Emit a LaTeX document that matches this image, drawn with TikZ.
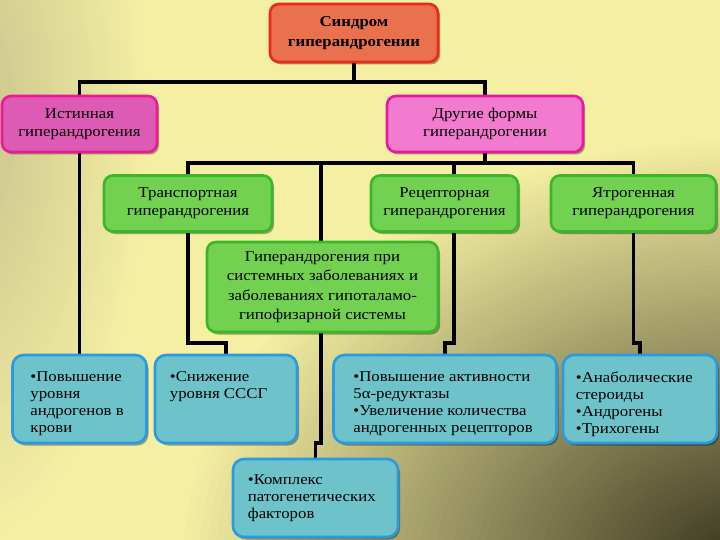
\documentclass[tikz,border=0pt]{standalone}
\usepackage{fontspec}
\setmainfont{Liberation Serif}[FakeStretch=1.12]
\usetikzlibrary{shadows}
\definecolor{bgbase}{HTML}{F4EFA2}
\definecolor{bgtl}{HTML}{C4C08C}
\definecolor{bgdark}{HTML}{36321D}
\definecolor{topfill}{HTML}{E9714E}
\definecolor{topdraw}{HTML}{F02818}
\definecolor{istfill}{HTML}{DD5BB4}
\definecolor{istdraw}{HTML}{EC1A95}
\definecolor{othfill}{HTML}{F27ACF}
\definecolor{othdraw}{HTML}{E8199E}
\definecolor{grnfill}{HTML}{72D150}
\definecolor{grndraw}{HTML}{38B826}
\definecolor{blufill}{HTML}{6DC3C9}
\definecolor{bludraw}{HTML}{2A9BE0}
\pgfdeclarelayer{bglayer}
\pgfdeclarelayer{linelayer}
\pgfsetlayers{bglayer,linelayer,main}
\begin{document}
\begin{tikzpicture}[x=1pt,y=-1pt,
  boxbase/.style={rounded corners=9pt, line width=2.6pt, inner sep=0pt,
    drop shadow={shadow xshift=2pt, shadow yshift=-2.5pt, opacity=.35, fill=black}},
  topbox/.style={boxbase, fill=topfill, draw=topdraw, align=center,
    font=\fontsize{15}{20.5}\selectfont\bfseries},
  istbox/.style={boxbase, fill=istfill, draw=istdraw, align=center,
    font=\fontsize{15}{18}\selectfont},
  othbox/.style={boxbase, fill=othfill, draw=othdraw, align=center,
    font=\fontsize{15}{18}\selectfont},
  grnbox/.style={boxbase, fill=grnfill, draw=grndraw, align=center,
    font=\fontsize{15}{18}\selectfont},
  blubox/.style={boxbase, fill=blufill, draw=bludraw, rounded corners=11pt},
  blutext/.style={anchor=north west, inner sep=0pt, align=left,
    font=\fontsize{15}{17}\selectfont},
  conn/.style={line width=3.6pt, black}]
\useasboundingbox (0,0) rectangle (720,540);
\begin{pgfonlayer}{bglayer}
  \fill[bgbase] (0,0) rectangle (720,540);
  \begin{scope}
    \clip (0,0) rectangle (720,540);
    \foreach \i in {0,...,39}{
      \pgfmathsetmacro\dd{1-\i/40}
      \pgfmathsetmacro\pp{100*\i/40}
      \fill[bgtl!\pp!bgbase] (-40,120) ellipse [x radius=\dd*190pt, y radius=\dd*430pt];
    }
    \foreach \i in {0,...,69}{
      \pgfmathsetmacro\dd{1-\i/70}
      \pgfmathsetmacro\pp{100*\i/70}
      \fill[bgdark!\pp!bgbase] (745,565) ellipse [x radius=\dd*570pt, y radius=\dd*430pt];
    }
  \end{scope}
\end{pgfonlayer}

% top level
\node[topbox, minimum width=168pt, minimum height=58pt] (top) at (354,33) {Синдром\\гиперандрогении};
\node[istbox, minimum width=155pt, minimum height=56pt] (ist) at (79.5,124) {Истинная\\гиперандрогения};
\node[othbox, minimum width=196pt, minimum height=56pt] (oth) at (485,124) {Другие формы\\гиперандрогении};

% green level
\node[grnbox, minimum width=168pt, minimum height=56pt] (tr) at (188,203.5) {Транспортная\\гиперандрогения};
\node[grnbox, minimum width=147pt, minimum height=56pt] (rc) at (444.5,203.5) {Рецепторная\\гиперандрогения};
\node[grnbox, minimum width=165pt, minimum height=56pt] (yt) at (633.5,203.5) {Ятрогенная\\гиперандрогения};
\node[grnbox, minimum width=231pt, minimum height=90pt, font=\fontsize{15}{19.5}\selectfont] (hp) at (322.5,287) {Гиперандрогения при\\системных заболеваниях и\\заболеваниях гипоталамо-\\гипофизарной системы};

% blue level
\node[blubox, minimum width=134pt, minimum height=88pt] (b1) at (79.5,399) {};
\node[blubox, minimum width=142pt, minimum height=88pt] (b2) at (226,399) {};
\node[blubox, minimum width=223pt, minimum height=88pt] (b3) at (445,399) {};
\node[blubox, minimum width=154pt, minimum height=88pt] (b4) at (640,399) {};
\node[blubox, minimum width=165pt, minimum height=78pt] (kp) at (315.5,498) {};

\node[blutext] (b1t) at ([xshift=19pt,yshift=-18pt]b1.north west) {\textbullet Повышение\\уровня\\андрогенов в\\крови};
\node[blutext] (b2t) at ([xshift=16pt,yshift=-18pt]b2.north west) {\textbullet Снижение\\уровня СССГ};
\node[blutext] (b3t) at ([xshift=21pt,yshift=-18pt]b3.north west) {\textbullet Повышение активности\\5α-редуктазы\\\textbullet Увеличение количества\\андрогенных рецепторов};
\node[blutext] (b4t) at ([xshift=14pt,yshift=-18pt]b4.north west) {\textbullet Анаболические\\стероиды\\\textbullet Андрогены\\\textbullet Трихогены};
\node[blutext] (kpt) at ([xshift=16pt,yshift=-17pt]kp.north west) {\textbullet Комплекс\\патогенетических\\факторов};

% connectors
\coordinate (bar1) at (354,82);
\coordinate (bar2) at (485,163);
\coordinate (rcx) at (454,163);
\coordinate (cx) at (321,163);
\coordinate (j3) at (454,343);
\coordinate (j5) at (321,443);
\begin{pgfonlayer}{linelayer}
  \draw[conn] (top.south) -- (bar1);
  \draw[conn] (ist.north) |- (bar1) -| (oth.north);
  \draw[conn] (ist.south) -- (ist.south |- b1.north);
  \draw[conn] (oth.south) -- (bar2);
  \draw[conn] (tr.north) |- (bar2) -| (yt.north);
  \draw[conn] (rcx) -- (j3) -| (b3.north);
  \draw[conn] (tr.south) -- (tr.south |- j3) -| (b2.north);
  \draw[conn] (yt.south) -- (yt.south |- j3) -| (b4.north);
  \draw[conn] (cx) -- (j5) -| (kp.north);
\end{pgfonlayer}
\end{tikzpicture}
\end{document}
